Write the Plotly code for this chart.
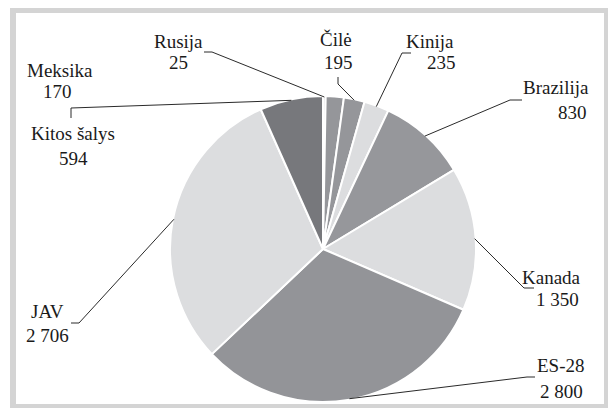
import math
import plotly.graph_objects as go

# ---- data ----
labels = ["Rusija", "Meksika", "Čilė", "Kinija", "Brazilija", "Kanada", "ES-28", "JAV", "Kitos šalys"]
values = [25, 170, 195, 235, 830, 1350, 2800, 2706, 594]
value_text = ["25", "170", "195", "235", "830", "1 350", "2 800", "2 706", "594"]

# ---- style / layout ----
OFF = 8  # page body margin
W, H = 616 - 2 * OFF, 416 - 2 * OFF
CX, CY, R = 323, 249, 153
LIGHT, MID, DARK = "#dcdddf", "#95969a", "#77787c"
colors = [LIGHT, MID, MID, LIGHT, "#96979b", LIGHT, "#939498", LIGHT, DARK]

# label centre (px, screen coords) for name and value lines
label_pos = {
    "Meksika": ((60, 70), (57, 91)),
    "Rusija": ((179, 42), (179, 63)),
    "Čilė": ((336, 40), (338, 63)),
    "Kinija": ((430, 42), (441, 63)),
    "Brazilija": ((556, 88), (572, 112)),
    "Kanada": ((551, 277), (557, 299)),
    "ES-28": ((561, 365), (561, 391)),
    "JAV": ((47, 311), (47, 335)),
    "Kitos šalys": ((73, 134), (73, 158)),
}
# leader line label-side points (px); pie-side end computed from the data
leader_start = {
    "Rusija": [(204, 52), (212, 52)],
    "Čilė": [(338, 77), (338, 84)],
    "Kinija": [(411, 53), (402, 53)],
    "Brazilija": [(522, 100), (510, 100)],
    "Kanada": [(534, 288), (524, 288)],
    "ES-28": [(535, 377), (527, 377)],
    "JAV": [(71, 323), (79, 323)],
    "Kitos šalys": [(71, 118), (71, 108)],
}

def px(x, y):
    return (x - OFF) / W, 1 - (y - OFF) / H

dx0, dy1 = px(CX - R, CY - R)
dx1, dy0 = px(CX + R, CY + R)

fig = go.Figure(go.Pie(
    labels=labels, values=values, sort=False, direction="clockwise", rotation=0,
    marker=dict(colors=colors, line=dict(color="white", width=2)),
    textinfo="none", hoverinfo="skip", showlegend=False,
    domain=dict(x=[dx0, dx1], y=[dy0, dy1]),
))

total = sum(values)
mid_angle = {}
cum = 0
for lab, v in zip(labels, values):
    mid_angle[lab] = (cum + v / 2) / total * 2 * math.pi
    cum += v

shapes = []
# frame
fx0, fy1 = px(13, 10)
fx1, fy0 = px(607, 407)
shapes.append(dict(type="rect", xref="paper", yref="paper",
                   x0=fx0, x1=fx1, y0=fy0, y1=fy1,
                   line=dict(color="#d4d4d4", width=6), fillcolor="rgba(0,0,0,0)", layer="below"))

for lab, pts in leader_start.items():
    a = mid_angle[lab]
    ex = CX + (R - 1) * math.sin(a)
    ey = CY - (R - 1) * math.cos(a)
    allp = pts + [(ex, ey)]
    path = "M " + " L ".join("%.5f,%.5f" % px(x, y) for x, y in allp)
    shapes.append(dict(type="path", xref="paper", yref="paper", path=path,
                       line=dict(color="#2a2a2a", width=1)))

annotations = []
font = dict(family="Times New Roman", size=19, color="#1a1a1a")
for lab, vt in zip(labels, value_text):
    (nx, ny), (vx, vy) = label_pos[lab]
    for t, (x, y) in ((lab, (nx, ny)), (vt, (vx, vy))):
        ax, ay = px(x, y)
        annotations.append(dict(text=t, x=ax, y=ay, xref="paper", yref="paper",
                                xanchor="center", yanchor="middle", showarrow=False, font=font))

fig.update_layout(width=W, height=H, autosize=False, margin=dict(l=0, r=0, t=0, b=0),
                  paper_bgcolor="white", plot_bgcolor="white",
                  shapes=shapes, annotations=annotations)
fig.write_html("out.html")
